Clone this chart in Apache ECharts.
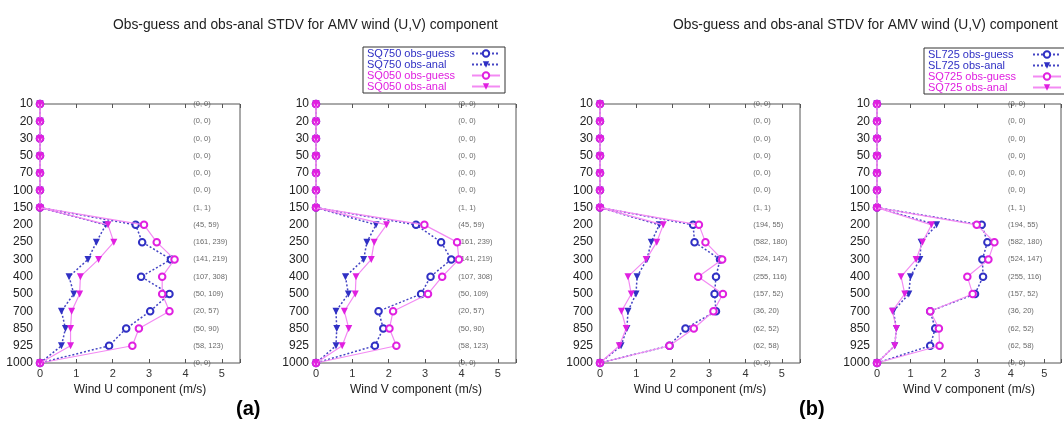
<!DOCTYPE html>
<html>
<head>
<meta charset="utf-8">
<script src="https://cdn.jsdelivr.net/npm/echarts@6/dist/echarts.min.js"></script>
<style>html,body{margin:0;padding:0;background:#fff}#c{width:1064px;height:423px}</style>
</head>
<body>
<div id="c"></div>
<script>
const levels = ['10','20','30','50','70','100','150','200','250','300','400','500','700','850','925','1000'];
const xTicks = [0, 1, 2, 3, 4, 5];

// Panel (a) U
const aU_guessBlue = [0,0,0,0,0,0,0, 2.63,2.81,3.60,2.78,3.56,3.03,2.37,1.90, 0];
const aU_analBlue  = [0,0,0,0,0,0,0, 1.81,1.55,1.32,0.80,0.93,0.59,0.70,0.59, 0];
const aU_guessMag  = [0,0,0,0,0,0,0, 2.86,3.21,3.70,3.36,3.36,3.56,2.72,2.54, 0];
const aU_analMag   = [0,0,0,0,0,0,0, 1.87,2.03,1.61,1.11,1.09,0.87,0.84,0.84, 0];
// Panel (a) V
const aV_guessBlue = [0,0,0,0,0,0,0, 2.75,3.44,3.72,3.15,2.89,1.72,1.85,1.62, 0];
const aV_analBlue  = [0,0,0,0,0,0,0, 1.65,1.40,1.31,0.81,0.89,0.55,0.57,0.55, 0];
const aV_guessMag  = [0,0,0,0,0,0,0, 2.98,3.88,3.93,3.47,3.08,2.12,2.02,2.21, 0];
const aV_analMag   = [0,0,0,0,0,0,0, 1.94,1.60,1.52,1.10,1.08,0.78,0.90,0.72, 0];
// Panel (b) U
const bU_guessBlue = [0,0,0,0,0,0,0, 2.56,2.60,3.30,3.19,3.15,3.19,2.35,1.91, 0];
const bU_analBlue  = [0,0,0,0,0,0,0, 1.63,1.41,1.29,1.02,0.99,0.77,0.74,0.58, 0];
const bU_guessMag  = [0,0,0,0,0,0,0, 2.72,2.90,3.36,2.70,3.38,3.12,2.58,1.91, 0];
const bU_analMag   = [0,0,0,0,0,0,0, 1.74,1.56,1.27,0.77,0.86,0.59,0.72,0.53, 0];
// Panel (b) V
const bV_guessBlue = [0,0,0,0,0,0,0, 3.13,3.30,3.15,3.17,2.93,1.59,1.74,1.59, 0];
const bV_analBlue  = [0,0,0,0,0,0,0, 1.78,1.32,1.28,1.00,0.95,0.49,0.58,0.53, 0];
const bV_guessMag  = [0,0,0,0,0,0,0, 2.98,3.51,3.33,2.70,2.86,1.59,1.85,1.87, 0];
const bV_analMag   = [0,0,0,0,0,0,0, 1.63,1.36,1.17,0.72,0.83,0.46,0.58,0.53, 0];

const countsA = ['(0, 0)','(0, 0)','(0, 0)','(0, 0)','(0, 0)','(0, 0)','(1, 1)','(45, 59)','(161, 239)','(141, 219)','(107, 308)','(50, 109)','(20, 57)','(50, 90)','(58, 123)','(0, 0)'];
const countsB = ['(0, 0)','(0, 0)','(0, 0)','(0, 0)','(0, 0)','(0, 0)','(1, 1)','(194, 55)','(582, 180)','(524, 147)','(255, 116)','(157, 52)','(36, 20)','(62, 52)','(62, 58)','(0, 0)'];

const namesA = ['SQ750 obs-guess','SQ750 obs-anal','SQ050 obs-guess','SQ050 obs-anal'];
const namesB = ['SL725 obs-guess','SL725 obs-anal','SQ725 obs-guess','SQ725 obs-anal'];
const axisTitles = ['Wind U component (m/s)','Wind V component (m/s)','Wind U component (m/s)','Wind V component (m/s)'];
const titleText = 'Obs-guess and obs-anal STDV for AMV wind (U,V) component';

const BLUE = '#3030c4', BLUELINE = '#4444c4', MAG = '#e020e0', MAGLINE = '#f38af3';
const FONT = '"Liberation Sans", Arial, sans-serif';

const panels = [
  {left: 40,  names: namesA, counts: countsA, cx: 4.2, vals: [aU_guessBlue, aU_analBlue, aU_guessMag, aU_analMag]},
  {left: 316, names: namesA, counts: countsA, cx: 3.9, vals: [aV_guessBlue, aV_analBlue, aV_guessMag, aV_analMag]},
  {left: 600, names: namesB, counts: countsB, cx: 4.2, vals: [bU_guessBlue, bU_analBlue, bU_guessMag, bU_analMag]},
  {left: 877, names: namesB, counts: countsB, cx: 3.9, vals: [bV_guessBlue, bV_analBlue, bV_guessMag, bV_analMag]}
];

const grid = [], xAxis = [], yAxis = [], series = [];
panels.forEach((p, i) => {
  grid.push({left: p.left, top: 104, width: 200, height: 259, show: true, borderColor: '#555', borderWidth: 1, containLabel: false});
  xAxis.push({
    type: 'value', gridIndex: i, min: 0, max: 5.5, interval: 1, position: 'bottom',
    name: axisTitles[i], nameLocation: 'middle', nameGap: 21,
    nameTextStyle: {fontSize: 12, color: '#222', fontFamily: FONT},
    axisLine: {show: false}, splitLine: {show: false},
    axisTick: {show: true, inside: true, length: 4, lineStyle: {color: '#555'}},
    axisLabel: {margin: 5, fontSize: 11, color: '#333', fontFamily: FONT,
      formatter: v => xTicks.indexOf(v) >= 0 ? String(v) : ''}
  });
  xAxis.push({
    type: 'value', gridIndex: i, min: 0, max: 5.5, interval: 1, position: 'top',
    axisLine: {show: false}, splitLine: {show: false}, axisLabel: {show: false},
    axisTick: {show: true, inside: true, length: 4, lineStyle: {color: '#555'}}
  });
  yAxis.push({
    type: 'category', gridIndex: i, data: levels, inverse: true, boundaryGap: false,
    axisLine: {show: false}, axisTick: {show: false}, splitLine: {show: false},
    axisLabel: {margin: 7, fontSize: 12, color: '#222', fontFamily: FONT}
  });
  const styles = [
    {color: BLUE, line: BLUELINE, type: [2, 2], width: 1.5, symbol: 'emptyCircle', rot: 0, size: 6.5},
    {color: BLUE, line: BLUELINE, type: [2, 2], width: 1.5, symbol: 'triangle', rot: 180, size: 7},
    {color: MAG, line: MAGLINE, type: 'solid', width: 1.2, symbol: 'emptyCircle', rot: 0, size: 6.5},
    {color: MAG, line: MAGLINE, type: 'solid', width: 1.2, symbol: 'triangle', rot: 180, size: 7}
  ];
  p.vals.forEach((vals, k) => {
    const s = styles[k];
    series.push({
      type: 'line', name: p.names[k], xAxisIndex: 2 * i, yAxisIndex: i,
      data: levels.map((l, j) => [vals[j], l]),
      symbol: s.symbol, symbolRotate: s.rot, symbolSize: s.size,
      itemStyle: {color: s.color, borderWidth: 1.6},
      lineStyle: {color: s.line, type: s.type, width: s.width},
      animation: false, clip: false, z: 2 + k
    });
  });
  series.push({
    type: 'scatter', name: 'counts' + i, xAxisIndex: 2 * i, yAxisIndex: i,
    data: levels.map(l => [p.cx, l]), symbolSize: 1, silent: true,
    itemStyle: {color: 'rgba(0,0,0,0)'},
    label: {show: true, position: 'right', distance: 0, fontSize: 7.5, color: '#444', fontFamily: FONT,
      formatter: q => p.counts[q.dataIndex]},
    animation: false, z: 1
  });
});

const legendCommon = {
  orient: 'vertical', align: 'right', itemGap: 0, itemWidth: 28, itemHeight: 8,
  padding: [1, 4, 1, 4], borderColor: '#333', borderWidth: 1, backgroundColor: '#fff',
  selectedMode: false,
  formatter: n => '{t|' + n + '}',
  textStyle: {fontSize: 11, lineHeight: 10.5, fontFamily: FONT,
    rich: {t: {width: 100, align: 'left', fontSize: 11, lineHeight: 10.5, fontFamily: FONT}}}
};
const legendItems = (names) => names.map((n, k) => ({name: n, textStyle: {color: k < 2 ? BLUE : MAG}}));

const chart = echarts.init(document.getElementById('c'), null, {renderer: 'canvas'});
chart.setOption({
  animation: false,
  title: [
    {text: titleText, left: 108, top: 13, textStyle: {fontSize: 13.8, fontWeight: 'normal', color: '#222', fontFamily: FONT}},
    {text: titleText, left: 668, top: 13, textStyle: {fontSize: 13.8, fontWeight: 'normal', color: '#222', fontFamily: FONT}},
    {text: '(a)', left: 236, top: 399, padding: 0, textStyle: {fontSize: 20, fontWeight: 'bold', color: '#000', fontFamily: FONT}},
    {text: '(b)', left: 799, top: 399, padding: 0, textStyle: {fontSize: 20, fontWeight: 'bold', color: '#000', fontFamily: FONT}}
  ],
  legend: [
    Object.assign({}, legendCommon, {left: 363, top: 47, data: legendItems(namesA)}),
    Object.assign({}, legendCommon, {left: 924, top: 48, data: legendItems(namesB)})
  ],
  grid, xAxis, yAxis, series
});
</script>
</body>
</html>
